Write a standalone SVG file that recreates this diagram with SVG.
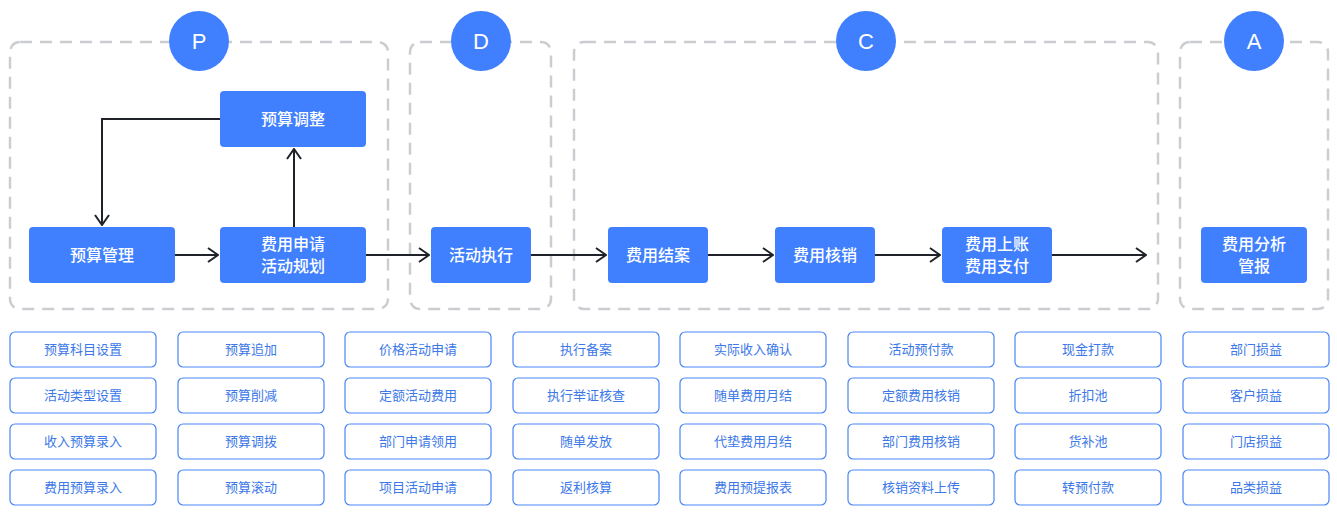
<svg xmlns="http://www.w3.org/2000/svg" width="1337" height="518" viewBox="0 0 1337 518">
<style>
text{font-family:"Noto Sans CJK SC","Liberation Sans",sans-serif}
.frame{fill:none;stroke:#cbcdd1;stroke-width:2.5;stroke-dasharray:12 8}
.circ{fill:#4080ff}
.ct{fill:#fff;font-size:22px;text-anchor:middle;font-family:"Liberation Sans",sans-serif}
.node{fill:#4080ff}
.nt{fill:#fff;font-size:16px;font-weight:500;text-anchor:middle}
.item{fill:#fff;stroke:#4a86f7;stroke-width:1.2}
.it{fill:#3c78e8;font-size:13px;text-anchor:middle}
.ln{fill:none;stroke:#1f2329;stroke-width:2}
</style>
<defs><marker id="ah" viewBox="0 0 12 16" refX="11" refY="8" markerWidth="12" markerHeight="16" markerUnits="userSpaceOnUse" orient="auto"><path d="M1,1 L11,8 L1,15" fill="none" stroke="#1f2329" stroke-width="2"/></marker></defs>
<g id="frames">
<rect class="frame" x="10" y="42" width="378" height="267" rx="10"/>
<rect class="frame" x="410" y="42" width="141" height="267" rx="10"/>
<rect class="frame" x="574" y="42" width="584" height="267" rx="10"/>
<rect class="frame" x="1180" y="42" width="148" height="267" rx="10"/>
</g>
<g id="phaseP"><circle class="circ" cx="199" cy="41" r="30"/><text class="ct" x="199" y="49">P</text></g>
<g id="phaseD"><circle class="circ" cx="481" cy="41" r="30"/><text class="ct" x="481" y="49">D</text></g>
<g id="phaseC"><circle class="circ" cx="866" cy="41" r="30"/><text class="ct" x="866" y="49">C</text></g>
<g id="phaseA"><circle class="circ" cx="1254" cy="41" r="30"/><text class="ct" x="1254" y="49">A</text></g>
<g id="connectors">
<polyline class="ln" points="220,119 102,119 102,225" marker-end="url(#ah)"/>
<line class="ln" x1="294" y1="227" x2="294" y2="149" marker-end="url(#ah)"/>
<line class="ln" x1="175" y1="255" x2="218" y2="255" marker-end="url(#ah)"/>
<line class="ln" x1="366" y1="255" x2="429" y2="255" marker-end="url(#ah)"/>
<line class="ln" x1="531" y1="255" x2="606" y2="255" marker-end="url(#ah)"/>
<line class="ln" x1="708" y1="255" x2="773" y2="255" marker-end="url(#ah)"/>
<line class="ln" x1="875" y1="255" x2="940" y2="255" marker-end="url(#ah)"/>
<line class="ln" x1="1052" y1="255" x2="1146" y2="255" marker-end="url(#ah)"/>
</g>
<g id="n1"><rect class="node" x="220" y="91" width="146" height="56" rx="4"/><text class="nt" x="293" y="125">预算调整</text></g>
<g id="n2"><rect class="node" x="29" y="227" width="146" height="56" rx="4"/><text class="nt" x="102" y="261">预算管理</text></g>
<g id="n3"><rect class="node" x="220" y="227" width="146" height="56" rx="4"/><text class="nt" x="293" y="250">费用申请</text><text class="nt" x="293" y="272">活动规划</text></g>
<g id="n4"><rect class="node" x="431" y="227" width="100" height="56" rx="4"/><text class="nt" x="481" y="261">活动执行</text></g>
<g id="n5"><rect class="node" x="608" y="227" width="100" height="56" rx="4"/><text class="nt" x="658" y="261">费用结案</text></g>
<g id="n6"><rect class="node" x="775" y="227" width="100" height="56" rx="4"/><text class="nt" x="825" y="261">费用核销</text></g>
<g id="n7"><rect class="node" x="942" y="227" width="110" height="56" rx="4"/><text class="nt" x="997" y="250">费用上账</text><text class="nt" x="997" y="272">费用支付</text></g>
<g id="n8"><rect class="node" x="1201" y="227" width="106" height="56" rx="4"/><text class="nt" x="1254" y="250">费用分析</text><text class="nt" x="1254" y="272">管报</text></g>
<g id="items">
<g transform="translate(10,0)">
<rect class="item" x="0" y="332" width="146" height="35" rx="5"/><text class="it" x="73" y="354">预算科目设置</text>
<rect class="item" x="0" y="378" width="146" height="35" rx="5"/><text class="it" x="73" y="400">活动类型设置</text>
<rect class="item" x="0" y="424" width="146" height="35" rx="5"/><text class="it" x="73" y="446">收入预算录入</text>
<rect class="item" x="0" y="470" width="146" height="35" rx="5"/><text class="it" x="73" y="492">费用预算录入</text>
</g>
<g transform="translate(178,0)">
<rect class="item" x="0" y="332" width="146" height="35" rx="5"/><text class="it" x="73" y="354">预算追加</text>
<rect class="item" x="0" y="378" width="146" height="35" rx="5"/><text class="it" x="73" y="400">预算削减</text>
<rect class="item" x="0" y="424" width="146" height="35" rx="5"/><text class="it" x="73" y="446">预算调拨</text>
<rect class="item" x="0" y="470" width="146" height="35" rx="5"/><text class="it" x="73" y="492">预算滚动</text>
</g>
<g transform="translate(345,0)">
<rect class="item" x="0" y="332" width="146" height="35" rx="5"/><text class="it" x="73" y="354">价格活动申请</text>
<rect class="item" x="0" y="378" width="146" height="35" rx="5"/><text class="it" x="73" y="400">定额活动费用</text>
<rect class="item" x="0" y="424" width="146" height="35" rx="5"/><text class="it" x="73" y="446">部门申请领用</text>
<rect class="item" x="0" y="470" width="146" height="35" rx="5"/><text class="it" x="73" y="492">项目活动申请</text>
</g>
<g transform="translate(513,0)">
<rect class="item" x="0" y="332" width="146" height="35" rx="5"/><text class="it" x="73" y="354">执行备案</text>
<rect class="item" x="0" y="378" width="146" height="35" rx="5"/><text class="it" x="73" y="400">执行举证核查</text>
<rect class="item" x="0" y="424" width="146" height="35" rx="5"/><text class="it" x="73" y="446">随单发放</text>
<rect class="item" x="0" y="470" width="146" height="35" rx="5"/><text class="it" x="73" y="492">返利核算</text>
</g>
<g transform="translate(680,0)">
<rect class="item" x="0" y="332" width="146" height="35" rx="5"/><text class="it" x="73" y="354">实际收入确认</text>
<rect class="item" x="0" y="378" width="146" height="35" rx="5"/><text class="it" x="73" y="400">随单费用月结</text>
<rect class="item" x="0" y="424" width="146" height="35" rx="5"/><text class="it" x="73" y="446">代垫费用月结</text>
<rect class="item" x="0" y="470" width="146" height="35" rx="5"/><text class="it" x="73" y="492">费用预提报表</text>
</g>
<g transform="translate(848,0)">
<rect class="item" x="0" y="332" width="146" height="35" rx="5"/><text class="it" x="73" y="354">活动预付款</text>
<rect class="item" x="0" y="378" width="146" height="35" rx="5"/><text class="it" x="73" y="400">定额费用核销</text>
<rect class="item" x="0" y="424" width="146" height="35" rx="5"/><text class="it" x="73" y="446">部门费用核销</text>
<rect class="item" x="0" y="470" width="146" height="35" rx="5"/><text class="it" x="73" y="492">核销资料上传</text>
</g>
<g transform="translate(1015,0)">
<rect class="item" x="0" y="332" width="146" height="35" rx="5"/><text class="it" x="73" y="354">现金打款</text>
<rect class="item" x="0" y="378" width="146" height="35" rx="5"/><text class="it" x="73" y="400">折扣池</text>
<rect class="item" x="0" y="424" width="146" height="35" rx="5"/><text class="it" x="73" y="446">货补池</text>
<rect class="item" x="0" y="470" width="146" height="35" rx="5"/><text class="it" x="73" y="492">转预付款</text>
</g>
<g transform="translate(1183,0)">
<rect class="item" x="0" y="332" width="146" height="35" rx="5"/><text class="it" x="73" y="354">部门损益</text>
<rect class="item" x="0" y="378" width="146" height="35" rx="5"/><text class="it" x="73" y="400">客户损益</text>
<rect class="item" x="0" y="424" width="146" height="35" rx="5"/><text class="it" x="73" y="446">门店损益</text>
<rect class="item" x="0" y="470" width="146" height="35" rx="5"/><text class="it" x="73" y="492">品类损益</text>
</g>
</g>
</svg>
